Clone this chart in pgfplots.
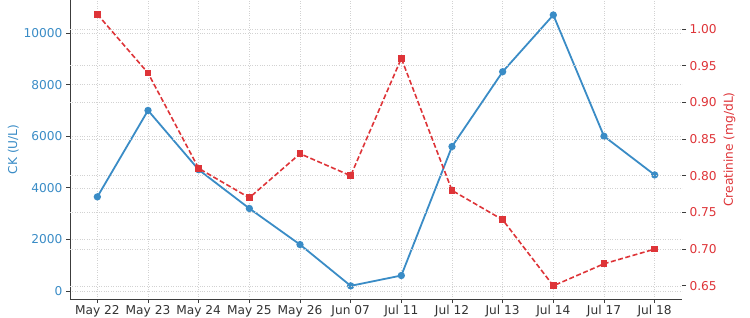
\documentclass[border=0pt]{standalone}
\usepackage{pgfplots}
\pgfplotsset{compat=1.18}
\usepackage{fontspec}
\setmainfont{DejaVu Sans}
\definecolor{ckblue}{RGB}{58,140,198}
\definecolor{crred}{RGB}{222,52,56}
\definecolor{spine}{RGB}{60,60,60}
\begin{document}
\begin{tikzpicture}[x=1pt,y=1pt]
\pgfplotsset{every axis/.append style={
  scale only axis, width=612pt, height=299pt, at={(0,0)}, anchor=south west,
  xmin=-0.54, xmax=11.54,
  font=\fontsize{12.2}{14}\selectfont,
  /pgf/number format/assume math mode=true,
  tick align=outside,
  major tick length=4pt,
  grid=major,
  major grid style={dotted, draw=gray!35, line width=0.5pt},
  scaled y ticks=false,
}}
\begin{axis}[
  axis x line*=bottom, axis y line*=left,
  ytick pos=left, xtick pos=bottom,
  axis line style={draw=spine, line width=0.9pt},
  xtick={0,...,11},
  xticklabels={May 22,May 23,May 24,May 25,May 26,Jun 07,Jul 11,Jul 12,Jul 13,Jul 14,Jul 17,Jul 18},
  x tick label style={text=black!80, yshift=1.5pt},
  ymin=-310, ymax=11280,
  ytick={0,2000,...,10000},
  /pgf/number format/1000 sep={},
  y tick label style={text=ckblue},
  ylabel={CK (U/L)}, ylabel style={text=ckblue, yshift=-2pt},
  tick style={draw=spine, line width=0.7pt},
]
\addplot[ckblue, line width=1.8pt, mark=*, mark size=2.7pt, mark options={solid, fill=ckblue}]
coordinates {(0,3650) (1,7000) (2,4700) (3,3200) (4,1800) (5,200) (6,600) (7,5600) (8,8500) (9,10700) (10,6000) (11,4500)};
\end{axis}
\begin{axis}[
  hide x axis,
  axis line style={draw=none},
  ytick pos=right, yticklabel pos=right, ylabel near ticks,
  xtick={0,...,11},
  ymin=0.632, ymax=1.0395,
  ytick={0.65,0.70,...,1.001},
  yticklabel style={text=crred, /pgf/number format/.cd, fixed, fixed zerofill, precision=2},
  ylabel={Creatinine (mg/dL)}, ylabel style={text=crred},
  tick style={draw=spine, line width=0.7pt},
]
\addplot[crred, line width=1.6pt, dash pattern=on 5pt off 2.5pt, mark=square*, mark size=2.5pt, mark options={solid, fill=crred}]
coordinates {(0,1.02) (1,0.94) (2,0.81) (3,0.77) (4,0.83) (5,0.80) (6,0.96) (7,0.78) (8,0.74) (9,0.65) (10,0.68) (11,0.70)};
\end{axis}
\pgfresetboundingbox
\path (-70,-18) rectangle (680,299);
\end{tikzpicture}
\end{document}
